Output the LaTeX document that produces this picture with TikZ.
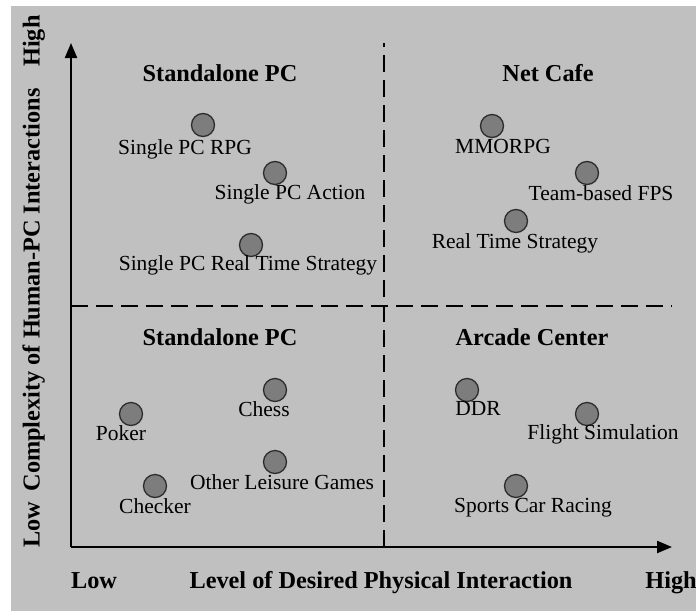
\documentclass[tikz,border=0pt]{standalone}
\usepackage{fontspec}
\setmainfont{Liberation Serif}
\usetikzlibrary{arrows.meta}

\definecolor{panelgray}{RGB}{192,192,192}
\definecolor{dotgray}{RGB}{125,125,125}
\definecolor{rimgray}{RGB}{45,45,45}

\begin{document}
\begin{tikzpicture}[
  x=1pt, y=-1pt,
  game/.style={circle, draw=rimgray, line width=1.3pt, fill=dotgray, minimum size=23pt, inner sep=0pt},
  gamename/.style={inner sep=0pt, text height=0.7em, text depth=0.2em, font=\fontsize{21.5}{26}\selectfont},
  zone/.style={inner sep=0pt, text height=0.7em, text depth=0.2em, font=\fontsize{24.3}{29}\selectfont\bfseries},
  axis/.style={line width=2.2pt, -{Triangle[length=15pt,width=12pt]}},
  split/.style={line width=1.8pt, dash pattern=on 17pt off 8pt}
]
\useasboundingbox (0,0) rectangle (696,611);
\fill[white] (0,0) rectangle (696,611);
\fill[panelgray] (11,6) rectangle (696,611);

% axes and quadrant borders
\coordinate (O) at (71,547);
\coordinate (ytop) at (71,43);
\coordinate (xend) at (672,547);
\coordinate (vtop) at (384,43);
\coordinate (vbot) at (384,547);
\coordinate (hleft) at (71,306);
\coordinate (hright) at (672,306);
\draw[split] (vbot) -- (vtop);
\draw[split] (hleft) -- (hright);
\draw[axis] (O) -- (ytop);
\draw[axis] (O) -- (xend);

% axis captions
\node[zone] (xlow) at (94,586) {Low};
\node[zone] (xname) at (381,586) {Level of Desired Physical Interaction};
\node[zone] (xhigh) at (671,586) {High};
\node[zone, rotate=90] (ylow) at (37,525) {Low};
\node[zone, rotate=90] (yname) at (37,290) {Complexity of Human-PC Interactions};
\node[zone, rotate=90] (yhigh) at (37,41) {High};

% quadrant titles
\node[zone] (tl) at (220,79) {Standalone PC};
\node[zone] (tr) at (548,79) {Net Cafe};
\node[zone] (bl) at (220,343) {Standalone PC};
\node[zone] (br) at (532,343) {Arcade Center};

% games
\node[game] (rpg) at (203,125) {};
\node[gamename] (rpgname) at (185,152) {Single PC RPG};
\node[game] (action) at (275,173) {};
\node[gamename] (actionname) at (290,197) {Single PC Action};
\node[game] (sprts) at (251,245) {};
\node[gamename] (sprtsname) at (248,268) {Single PC Real Time Strategy};

\node[game] (mmo) at (492,126) {};
\node[gamename] (mmoname) at (503,151) {MMORPG};
\node[game] (fps) at (587,173) {};
\node[gamename] (fpsname) at (601,198) {Team-based FPS};
\node[game] (rts) at (516,221) {};
\node[gamename] (rtsname) at (515,246) {Real Time Strategy};

\node[game] (chess) at (275,390) {};
\node[gamename] (chessname) at (264,414) {Chess};
\node[game] (poker) at (131,414) {};
\node[gamename] (pokername) at (121,438) {Poker};
\node[game] (leisure) at (275,462) {};
\node[gamename] (leisurename) at (282,487) {Other Leisure Games};
\node[game] (checker) at (155,486) {};
\node[gamename] (checkername) at (155,511) {Checker};

\node[game] (ddr) at (467,390) {};
\node[gamename] (ddrname) at (478,413) {DDR};
\node[game] (flight) at (587,414) {};
\node[gamename] (flightname) at (603,437) {Flight Simulation};
\node[game] (racing) at (516,486) {};
\node[gamename] (racingname) at (533,510) {Sports Car Racing};
\end{tikzpicture}
\end{document}
